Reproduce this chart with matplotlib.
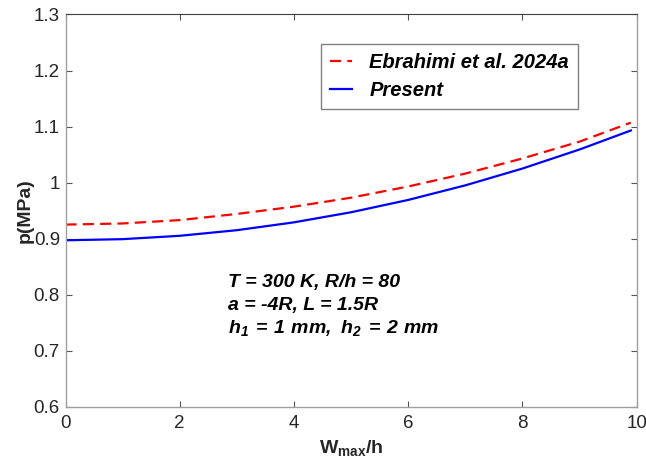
import matplotlib
matplotlib.use('Agg')
import matplotlib.pyplot as plt

# Dimensionless maximum deflection
w_max = [0, 1, 2, 3, 4, 5, 6, 7, 8, 9, 9.9]

# Pressure (MPa) for the reference solution and the present model
p_ebrahimi = [0.925, 0.927, 0.933, 0.944, 0.957, 0.973, 0.993, 1.016, 1.043, 1.073, 1.107]
p_present = [0.897, 0.899, 0.905, 0.915, 0.929, 0.947, 0.969, 0.995, 1.025, 1.059, 1.093]

x_ticks = [0, 2, 4, 6, 8, 10]
y_ticks = [0.6, 0.7, 0.8, 0.9, 1.0, 1.1, 1.2, 1.3]
y_tick_labels = ['0.6', '0.7', '0.8', '0.9', '1', '1.1', '1.2', '1.3']

plt.rcParams['font.family'] = 'Liberation Sans'
plt.rcParams['mathtext.fontset'] = 'custom'
plt.rcParams['mathtext.bf'] = 'Liberation Sans:bold:italic'
plt.rcParams['mathtext.sf'] = 'Liberation Sans:bold'
plt.rcParams['mathtext.rm'] = 'Liberation Sans'

text_color = '#262626'
axis_color = '#a0a0a0'

fig = plt.figure(figsize=(6.46, 4.66), dpi=100)
ax = fig.add_axes([0.1014, 0.1273, 0.884, 0.8416])

ax.plot(w_max, p_ebrahimi, color='#ff0000', linestyle=(0, (5, 2.8)), linewidth=1.6,
        label='Ebrahimi et al. 2024a')
ax.plot(w_max, p_present, color='#0000ff', linestyle='-', linewidth=1.6,
        label='Present')

ax.set_xlim(0, 10)
ax.set_ylim(0.6, 1.3)
ax.set_xticks(x_ticks)
ax.set_xticklabels([str(t) for t in x_ticks])
ax.set_yticks(y_ticks)
ax.set_yticklabels(y_tick_labels)

ax.tick_params(direction='in', length=4, width=0.8, colors=text_color,
               labelsize=13.5, top=True, right=True)
ax.tick_params(axis='x', pad=6)
ax.tick_params(axis='y', pad=4)
ax.tick_params(axis='both', color='#555555')
for side in ['left', 'bottom', 'right']:
    ax.spines[side].set_color(axis_color)
    ax.spines[side].set_linewidth(1.0)
ax.spines['top'].set_color('#404040')
ax.spines['top'].set_linewidth(0.8)

ax.set_xlabel(r'$\mathsf{W_{max}/h}$', fontsize=14, color=text_color, labelpad=4)
ax.set_ylabel('p(MPa)', fontsize=14, fontweight='bold', color=text_color, labelpad=0)

leg = ax.legend(loc='upper right', bbox_to_anchor=(0.8975, 0.925),
                prop={'size': 14.5, 'weight': 'bold', 'style': 'italic'},
                frameon=True, fancybox=False, framealpha=1,
                edgecolor='#808080', handlelength=1.1, handletextpad=0.85,
                borderpad=0.45, borderaxespad=0, labelspacing=0.45)
leg.get_frame().set_linewidth(1.0)
for t in leg.get_texts():
    t.set_color('black')

# Parameter annotation
note_kw = dict(transform=ax.transAxes, fontsize=14, fontweight='bold',
               fontstyle='italic', color='black', va='baseline', ha='left')
ax.text(0.285, 0.305, 'T = 300 K, R/h = 80', **note_kw)
ax.text(0.285, 0.247, 'a = -4R, L = 1.5R', **note_kw)
ax.text(0.285, 0.188, r'$\mathbf{h_1\,=\,1\ mm,\ h_2\,=\,2\ mm}$', **note_kw)

fig.savefig('out.png', dpi=100, facecolor='white')
